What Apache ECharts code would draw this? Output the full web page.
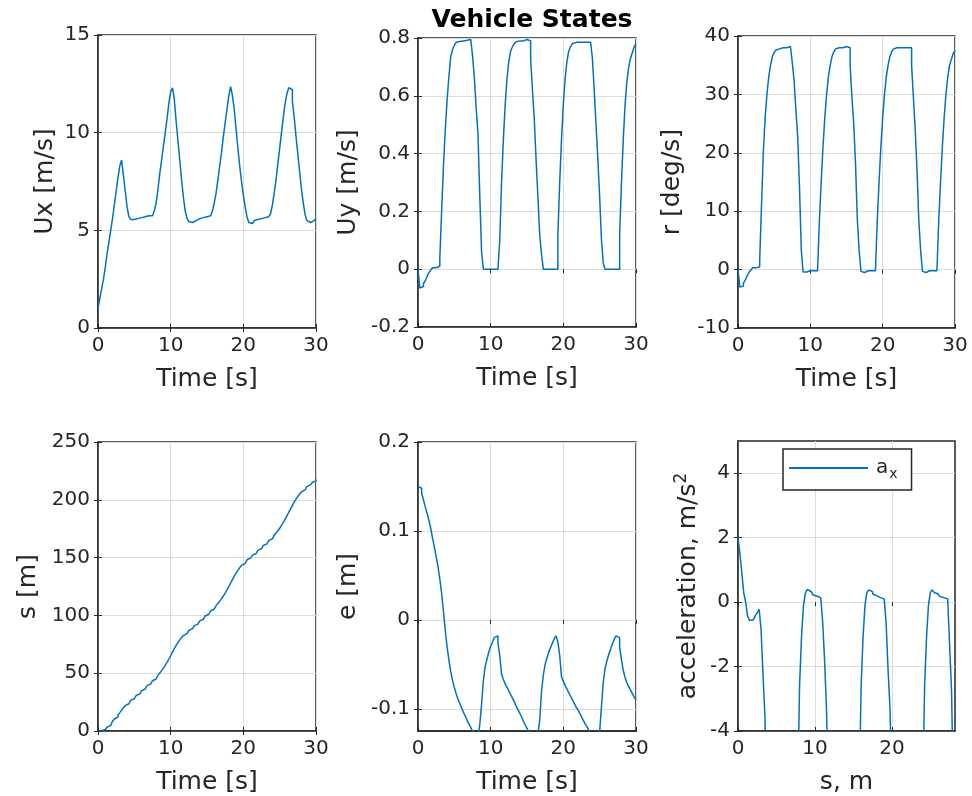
<!DOCTYPE html>
<html>
<head>
<meta charset="utf-8">
<title>Vehicle States</title>
<script src="https://cdn.jsdelivr.net/npm/echarts@6/dist/echarts.min.js"></script>
<style>
  html, body { margin: 0; padding: 0; background: #ffffff; }
  #chart { width: 972px; height: 796px; }
</style>
</head>
<body>
<div id="chart"></div>
<script>
// Sample period of the logged vehicle states [s]
const dt = 0.25;

// Longitudinal speed Ux [m/s], one value per sample
const ux = [
  1.0, 1.5, 2.0, 2.5, 3.1, 3.8, 4.4, 5.0,
  5.6, 6.3, 7.0, 7.7, 8.3, 8.6, 7.8, 7.0,
  6.2, 5.7, 5.55, 5.55, 5.6, 5.6, 5.65, 5.65,
  5.7, 5.7, 5.7, 5.75, 5.75, 5.75, 5.8, 6.0,
  6.4, 7.1, 7.9, 8.6, 9.3, 10.0, 10.7, 11.5,
  12.1, 12.3, 11.7, 10.6, 9.6, 8.6, 7.6, 6.7,
  6.0, 5.6, 5.45, 5.4, 5.45, 5.5, 5.55, 5.6,
  5.6, 5.65, 5.65, 5.7, 5.7, 5.75, 5.8, 6.0,
  6.4, 6.9, 7.6, 8.3, 9.0, 9.8, 10.5, 11.2,
  11.9, 12.35, 11.9, 11.2, 10.2, 9.2, 8.3, 7.5,
  6.8, 6.2, 5.7, 5.4, 5.35, 5.45, 5.5, 5.55,
  5.6, 5.6, 5.65, 5.65, 5.7, 5.7, 5.75, 5.85,
  6.3, 6.9, 7.6, 8.4, 9.2, 10.0, 10.8, 11.5,
  12.0, 12.3, 12.2, 11.6, 10.8, 9.8, 8.9, 8.0,
  7.1, 6.4, 5.8, 5.5, 5.4, 5.45, 5.5, 5.6,
  5.6
];

// Lateral speed Uy [m/s]
const uy = [
  0, -0.065, -0.06, -0.05, -0.04, -0.025, -0.012, -0.003,
  0.005, 0.005, 0.005, 0.01, 0.035, 0.2, 0.355, 0.48,
  0.585, 0.665, 0.735, 0.76, 0.775, 0.785, 0.788, 0.79,
  0.79, 0.79, 0.792, 0.795, 0.795, 0.79, 0.74, 0.665,
  0.56, 0.47, 0.255, 0.06, 0, 0, 0, 0,
  0, 0, 0, 0, 0, 0.1, 0.3, 0.45,
  0.57, 0.66, 0.72, 0.755, 0.77, 0.78, 0.787, 0.79,
  0.79, 0.79, 0.795, 0.795, 0.795, 0.79, 0.73, 0.62,
  0.52, 0.38, 0.25, 0.12, 0.05, 0, 0, 0,
  0, 0, 0, 0, 0, 0.12, 0.3, 0.45,
  0.57, 0.66, 0.72, 0.755, 0.77, 0.78, 0.785, 0.785,
  0.785, 0.785, 0.785, 0.785, 0.785, 0.785, 0.785, 0.785,
  0.73, 0.62, 0.5, 0.38, 0.25, 0.1, 0.02, 0,
  0, 0, 0, 0, 0, 0, 0, 0.12,
  0.3, 0.45, 0.57, 0.65, 0.7, 0.73, 0.75, 0.77,
  0.78
];

// Yaw rate r [deg/s]
const yawRate = [
  0, -3.0, -2.8, -2.3, -1.8, -1.1, -0.5, -0.1,
  0.3, 0.3, 0.3, 0.5, 1.6, 11, 20, 26,
  30, 33, 35, 36.5, 37.2, 37.6, 37.8, 38,
  38, 38, 38, 38.2, 38.2, 38, 35.5, 32.5,
  27.4, 22.8, 14.2, 3.4, -0.4, -0.4, -0.2, -0.2,
  -0.2, -0.2, -0.2, -0.2, -0.2, 8.3, 15, 21,
  26, 30, 33, 35, 36.5, 37.3, 37.8, 38,
  38, 38, 38.2, 38.2, 38.2, 38, 35, 29.5,
  25, 18, 8.5, 3.2, -0.3, -0.5, -0.2, -0.2,
  -0.2, -0.2, -0.2, -0.2, -0.2, 8.3, 15, 21,
  26, 30, 33, 35, 36.5, 37.3, 37.8, 38,
  38, 38, 38, 38, 38, 38, 38, 38,
  35, 29.5, 24, 17, 8.4, 3.3, -0.3, -0.5,
  -0.2, -0.2, -0.2, -0.2, -0.2, -0.2, -0.2, 8.3,
  15, 21, 26, 30, 33, 35, 36, 37,
  37.5
];

// Distance along path s [m]
const pathS = [
  0, 0.3, 0.8, 1.3, 2.0, 3.4, 4.9, 6.6,
  8.4, 10.4, 12.1, 13.9, 15.9, 18.0, 20.1, 21.9,
  23.6, 25.1, 26.5, 27.9, 29.3, 30.7, 32.1, 33.5,
  34.9, 36.3, 37.8, 39.2, 40.6, 42.1, 43.5, 45.0,
  46.5, 48.2, 50.1, 52.2, 54.4, 56.8, 59.4, 62.2,
  65.1, 68.2, 71.2, 74.0, 76.5, 78.8, 80.8, 82.6,
  84.2, 85.7, 87.0, 88.4, 89.8, 91.1, 92.5, 93.9,
  95.3, 96.7, 98.1, 99.5, 101.0, 102.4, 103.8, 105.3,
  106.9, 108.5, 110.3, 112.3, 114.5, 116.8, 119.3, 122.0,
  124.9, 128.0, 131.0, 133.9, 136.6, 139.0, 141.2, 143.2,
  144.9, 146.6, 148.1, 149.5, 150.8, 152.1, 153.5, 154.9,
  156.3, 157.7, 159.1, 160.5, 161.9, 163.4, 164.8, 166.2,
  167.7, 169.4, 171.2, 173.2, 175.4, 177.8, 180.4, 183.2,
  186.1, 189.2, 192.2, 195.2, 198.0, 200.6, 202.9, 205.0,
  206.9, 208.6, 210.2, 211.6, 212.9, 214.0, 215.2, 216.4,
  217.6
];

// Lateral path error e [m]
const lateralErr = [
  0.15, 0.148, 0.142, 0.135, 0.127, 0.12, 0.112, 0.103,
  0.092, 0.082, 0.071, 0.06, 0.046, 0.03, 0.01, -0.012,
  -0.03, -0.045, -0.058, -0.068, -0.076, -0.083, -0.089, -0.094,
  -0.099, -0.104, -0.108, -0.113, -0.117, -0.121, -0.125, -0.128,
  -0.13, -0.13, -0.118, -0.095, -0.068, -0.052, -0.044, -0.036,
  -0.03, -0.025, -0.02, -0.018, -0.026, -0.04, -0.061, -0.067,
  -0.072, -0.076, -0.08, -0.084, -0.088, -0.092, -0.097, -0.101,
  -0.105, -0.109, -0.114, -0.118, -0.122, -0.126, -0.13, -0.132,
  -0.133, -0.132, -0.128, -0.113, -0.08, -0.062, -0.05, -0.043,
  -0.036, -0.031, -0.026, -0.021, -0.018, -0.025, -0.04, -0.064,
  -0.069, -0.074, -0.078, -0.082, -0.086, -0.09, -0.094, -0.098,
  -0.101, -0.105, -0.109, -0.113, -0.117, -0.12, -0.124, -0.128,
  -0.131, -0.132, -0.132, -0.13, -0.126, -0.097, -0.07, -0.054,
  -0.046, -0.039, -0.033, -0.027, -0.022, -0.018, -0.02, -0.031,
  -0.045, -0.057, -0.065, -0.071, -0.075, -0.079, -0.083, -0.087,
  -0.09
];

// Longitudinal acceleration a_x [m/s^2], sampled every dt along the horizontal axis
const accelX = [
  2.0, 1.5, 0.9, 0.28, 0.0, -0.44, -0.57, -0.55,
  -0.5, -0.42, -0.33, -0.22, -0.86, -2.25, -3.54, -6,
  -6, -6, -6, -6, -6, -6, -6, -6,
  -6, -6, -6, -6, -6, -6, -6, -6,
  -2.6, -1.1, -0.13, 0.28, 0.39, 0.33, 0.27, 0.22,
  0.19, 0.16, 0.13, 0.1, -0.6, -1.8, -3.3, -6,
  -6, -6, -6, -6, -6, -6, -6, -6,
  -6, -6, -6, -6, -6, -6, -6, -6,
  -2.6, -1.1, -0.1, 0.3, 0.38, 0.32, 0.25, 0.2,
  0.17, 0.14, 0.12, 0.1, 0.08, -0.65, -2.1, -3.3,
  -6, -6, -6, -6, -6, -6, -6, -6,
  -6, -6, -6, -6, -6, -6, -6, -6,
  -6, -2.6, -1.1, -0.1, 0.3, 0.38, 0.3, 0.25,
  0.2, 0.17, 0.14, 0.12, 0.1, 0.05, -1.35, -2.75,
  -6
];

// Tick values for each axis
const timeTicks = [0, 10, 20, 30];
const uxTicks = [0, 5, 10, 15];
const uyTicks = [-0.2, 0, 0.2, 0.4, 0.6, 0.8];
const rTicks = [-10, 0, 10, 20, 30, 40];
const sTicks = [0, 50, 100, 150, 200, 250];
const eTicks = [-0.1, 0, 0.1, 0.2];
const axTicksX = [0, 10, 20];
const axTicksY = [-4, -2, 0, 2, 4];

const pairs = (vals) => vals.map((v, i) => [i * dt, v]);

const INK = '#262626';
const GRID_LINE = '#dcdcdc';
const LINE_BLUE = '#0072bd';
const FONT = 'DejaVu Sans';

// Panel rectangles in pixels
const panels = [
  { left: 98,  top: 35,  width: 218, height: 293 },
  { left: 418, top: 38,  width: 218, height: 289 },
  { left: 738, top: 36,  width: 217, height: 292 },
  { left: 98,  top: 442, width: 218, height: 290 },
  { left: 418, top: 442, width: 218, height: 290 },
  { left: 738, top: 441, width: 217, height: 291 }
];

// Axis descriptions per panel
const axesSpec = [
  { x: { min: 0, max: 30, ticks: timeTicks, name: 'Time [s]' },
    y: { min: 0, max: 15, ticks: uxTicks, name: 'Ux [m/s]', gap: 40 } },
  { x: { min: 0, max: 30, ticks: timeTicks, name: 'Time [s]' },
    y: { min: -0.2, max: 0.8, ticks: uyTicks, name: 'Uy [m/s]', gap: 57 } },
  { x: { min: 0, max: 30, ticks: timeTicks, name: 'Time [s]' },
    y: { min: -10, max: 40, ticks: rTicks, name: 'r [deg/s]', gap: 53 } },
  { x: { min: 0, max: 30, ticks: timeTicks, name: 'Time [s]' },
    y: { min: 0, max: 250, ticks: sTicks, name: 's [m]', gap: 57 } },
  { x: { min: 0, max: 30, ticks: timeTicks, name: 'Time [s]' },
    y: { min: -0.125, max: 0.2, ticks: eTicks, name: 'e [m]', gap: 57 } },
  { x: { min: 0, max: 28.2, ticks: axTicksX, name: 's, m' },
    y: { min: -4, max: 5, ticks: axTicksY, name: 'acceleration, m/s{sup|2}', gap: 34 } }
];

const tickStyle = { color: INK, fontFamily: FONT, fontSize: 20 };
const nameStyle = { color: INK, fontFamily: FONT, fontSize: 25 };

const grids = panels.map(p => Object.assign({
  show: true, borderColor: INK, borderWidth: 1.5, backgroundColor: '#ffffff',
  containLabel: false
}, p));

const xAxes = [];
const yAxes = [];
axesSpec.forEach((spec, gi) => {
  // primary bottom axis with labels and grid lines
  xAxes.push({
    type: 'value', gridIndex: gi, position: 'bottom',
    min: spec.x.min, max: spec.x.max,
    name: spec.x.name, nameLocation: 'middle', nameGap: 39,
    nameTextStyle: nameStyle,
    axisLine: { show: true, onZero: false, lineStyle: { color: INK, width: 1.5 } },
    axisTick: { show: true, inside: true, length: 4, customValues: spec.x.ticks, lineStyle: { color: INK } },
    axisLabel: { show: true, margin: 8, customValues: spec.x.ticks, ...tickStyle },
    splitLine: { show: true, lineStyle: { color: GRID_LINE, width: 1 } }
  });
  // mirrored top axis carrying only inward ticks
  xAxes.push({
    type: 'value', gridIndex: gi, position: 'top',
    min: spec.x.min, max: spec.x.max,
    axisLine: { show: false },
    axisTick: { show: true, inside: true, length: 4, customValues: spec.x.ticks, lineStyle: { color: INK } },
    axisLabel: { show: false },
    splitLine: { show: false }
  });
  yAxes.push({
    type: 'value', gridIndex: gi, position: 'left',
    min: spec.y.min, max: spec.y.max,
    name: spec.y.name, nameLocation: 'middle', nameGap: spec.y.gap, nameRotate: 90,
    nameTextStyle: Object.assign({}, nameStyle, {
      rich: { sup: { fontFamily: FONT, fontSize: 17, color: INK, padding: [0, 0, 14, 0] } }
    }),
    axisLine: { show: true, onZero: false, lineStyle: { color: INK, width: 1.5 } },
    axisTick: { show: true, inside: true, length: 4, customValues: spec.y.ticks, lineStyle: { color: INK } },
    axisLabel: { show: true, margin: 8, customValues: spec.y.ticks, ...tickStyle },
    splitLine: { show: true, lineStyle: { color: GRID_LINE, width: 1 } }
  });
  yAxes.push({
    type: 'value', gridIndex: gi, position: 'right',
    min: spec.y.min, max: spec.y.max,
    axisLine: { show: false },
    axisTick: { show: true, inside: true, length: 4, customValues: spec.y.ticks, lineStyle: { color: INK } },
    axisLabel: { show: false },
    splitLine: { show: false }
  });
});

const seriesValues = [ux, uy, yawRate, pathS, lateralErr, accelX];
const series = seriesValues.map((vals, gi) => ({
  type: 'line',
  name: gi === 5 ? 'a_x' : 'state' + gi,
  xAxisIndex: gi * 2,
  yAxisIndex: gi * 2,
  data: pairs(vals),
  step: 'end',
  symbol: 'none',
  clip: true,
  lineStyle: { color: LINE_BLUE, width: 1.5 },
  itemStyle: { color: LINE_BLUE },
  z: 3
}));

const chart = echarts.init(document.getElementById('chart'), null, { renderer: 'canvas' });
chart.setOption({
  animation: false,
  backgroundColor: '#ffffff',
  title: {
    text: 'Vehicle States',
    left: 527, top: 3, textAlign: 'center',
    textStyle: { fontFamily: FONT, fontSize: 25, fontWeight: 'bold', color: '#000000' }
  },
  legend: {
    data: [{ name: 'a_x', icon: 'rect' }],
    left: 783, top: 449,
    orient: 'horizontal',
    backgroundColor: '#ffffff',
    borderColor: INK, borderWidth: 1.5,
    padding: [9, 14, 9, 6],
    itemWidth: 79, itemHeight: 2, itemGap: 9,
    itemStyle: { color: LINE_BLUE },
    formatter: () => '{a|a}{x|x}',
    textStyle: {
      color: INK, fontFamily: FONT, fontSize: 20,
      rich: {
        a: { fontFamily: FONT, fontSize: 20, color: INK, padding: [0, 0, 0, 3] },
        x: { fontFamily: FONT, fontSize: 14, color: INK, padding: [12, 0, 0, 1] }
      }
    }
  },
  grid: grids,
  xAxis: xAxes,
  yAxis: yAxes,
  series: series
});
</script>
</body>
</html>
